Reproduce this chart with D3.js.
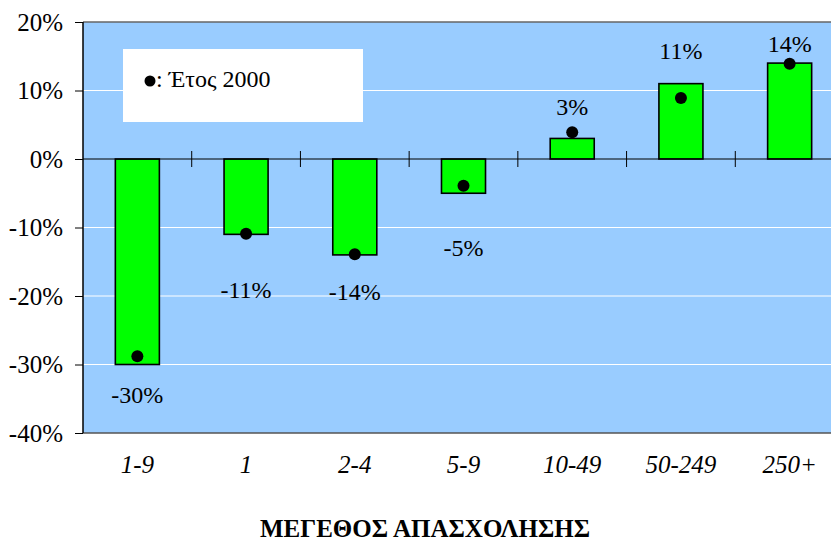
<!DOCTYPE html>
<html><head><meta charset="utf-8">
<script src="https://cdn.jsdelivr.net/npm/d3@7"></script>
<style>body{margin:0;background:#fff}svg{display:block}</style>
</head><body>
<svg id="c" width="831" height="544"></svg>
<script>
const categories = ["1-9","1","2-4","5-9","10-49","50-249","250+"];
const change = [-30,-11,-14,-5,3,11,14];
const year2000 = [-28.8,-10.9,-13.9,-3.9,3.9,8.9,13.9];
const labels = ["-30%","-11%","-14%","-5%","3%","11%","14%"];
const labelAt = [-35.6,-20.3,-20.6,-14.2,6.4,14.6,15.6];
const yTicks = [20,10,0,-10,-20,-30,-40];
const legendText = ": Έτος 2000";
const xTitle = "ΜΕΓΕΘΟΣ ΑΠΑΣΧΟΛΗΣΗΣ";

const FF = '"Liberation Serif"';
const svg = d3.select("#c");
const L = 83, T = 22, B = 433, W = 761;
const x = d3.scaleBand().domain(categories).range([L, L + W]).paddingInner(0.595).paddingOuter(0.2975);
const xo = d3.scaleBand().domain(categories).range([L, L + W]);
const y = d3.scaleLinear().domain([-40, 20]).range([B, T]);

svg.append("rect").attr("x", L).attr("y", T).attr("width", W).attr("height", B - T).attr("fill", "#99CCFF");
svg.selectAll("line.g").data(yTicks.filter(d => d !== 0 && d !== 20 && d !== -40)).join("line")
  .attr("x1", L).attr("x2", L + W).attr("y1", d => y(d)).attr("y2", d => y(d))
  .attr("stroke", "#fff").attr("stroke-width", 1);
svg.append("line").attr("x1", L).attr("x2", L + W).attr("y1", y(20)).attr("y2", y(20)).attr("stroke", "#666").attr("stroke-width", 1.5);
svg.append("line").attr("x1", L).attr("x2", L + W).attr("y1", y(-40)).attr("y2", y(-40)).attr("stroke", "#555").attr("stroke-width", 1.5);

svg.append("rect").attr("x", 123).attr("y", 49).attr("width", 240).attr("height", 73).attr("fill", "#fff");
svg.append("circle").attr("cx", 150).attr("cy", 81).attr("r", 5.5).attr("fill", "#000");
svg.append("text").attr("x", 156).attr("y", 87).style("font-family", FF).style("font-size", "24px").text(legendText);

svg.selectAll("rect.bar").data(categories).join("rect")
  .attr("x", d => x(d)).attr("width", x.bandwidth())
  .attr("y", (d, i) => y(Math.max(0, change[i])))
  .attr("height", (d, i) => Math.abs(y(change[i]) - y(0)))
  .attr("fill", "#00FF00").attr("stroke", "#000").attr("stroke-width", 1.6);

svg.append("line").attr("x1", L).attr("x2", L + W).attr("y1", y(0)).attr("y2", y(0)).attr("stroke", "#000").attr("stroke-width", 1.2);
svg.selectAll("line.ct").data(categories.slice(1)).join("line")
  .attr("x1", d => xo(d)).attr("x2", d => xo(d)).attr("y1", y(0) - 8).attr("y2", y(0) + 8)
  .attr("stroke", "#000").attr("stroke-width", 1);

svg.selectAll("circle.d").data(categories).join("circle")
  .attr("cx", d => x(d) + x.bandwidth() / 2).attr("cy", (d, i) => y(year2000[i])).attr("r", 6).attr("fill", "#000");

svg.selectAll("text.v").data(categories).join("text")
  .attr("x", d => x(d) + x.bandwidth() / 2)
  .attr("y", (d, i) => y(labelAt[i]))
  .attr("text-anchor", "middle").style("font-family", FF).style("font-size", "24px")
  .text((d, i) => labels[i]);

const ya = d3.axisLeft(y).tickValues(yTicks).tickFormat(d => d + "%").tickSize(8).tickPadding(12);
const yg = svg.append("g").attr("transform", `translate(${L},0)`).call(ya);
yg.attr("font-family", null).attr("font-size", null);
yg.select(".domain").attr("stroke", "#000").attr("stroke-width", 1.5).attr("d", `M0,${T}V${B}`);
yg.selectAll("text").style("font-family", FF).style("font-size", "25px").attr("fill", "#000");
yg.selectAll(".tick line").attr("stroke", "#000");

svg.selectAll("text.cx").data(categories).join("text")
  .attr("x", d => xo(d) + xo.bandwidth() / 2).attr("y", 473)
  .attr("text-anchor", "middle").style("font-family", FF).style("font-size", "25px").style("font-style", "italic")
  .text(d => d);

svg.append("text").attr("x", 425).attr("y", 537).attr("text-anchor", "middle")
  .style("font-family", FF).style("font-size", "25px").style("font-weight", "bold").text(xTitle);
</script>
</body></html>
